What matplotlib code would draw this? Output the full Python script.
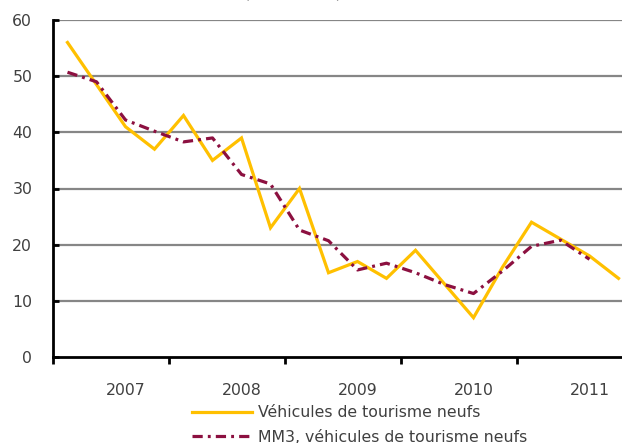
import numpy as np
import matplotlib
matplotlib.use("Agg")
import matplotlib.pyplot as plt
from matplotlib.lines import Line2D

# ---- data ----
years = ["2007", "2008", "2009", "2010", "2011"]
vehicules = [56, 48.5, 41, 37, 43, 35, 39, 23, 30, 15, 17, 14, 19, 13, 7, 16, 24, 21, 18, 14]
mm3 = [50.7, 49.0, 42.2, 40.2, 38.3, 39.0, 32.5, 30.8, 22.6, 20.7, 15.5, 16.7, 15.0, 12.9,
       11.3, 15.3, 19.7, 20.8, 17.4, np.nan]
yticks = [0, 10, 20, 30, 40, 50, 60]
label_v = "Véhicules de tourisme neufs"
label_m = "MM3, véhicules de tourisme neufs"
title = "(en nombre)"

W, H = 622, 443
fig = plt.figure(figsize=(W / 100, H / 100), dpi=100)
plt.rcParams['font.family'] = ['DejaVu Sans']
txt = '#404040'

# axes: left 53px, top 20px, bottom 357px, 29px per quarter (extends past right edge)
n = len(vehicules)
ax_w = n * 29
ax = fig.add_axes([53 / W, (H - 357) / H, ax_w / W, 337 / H])
x = np.arange(n)

ax.set_ylim(0, 60)
ax.set_xlim(-0.5, n - 0.5)
for v in yticks[1:]:
    ax.axhline(v, color='#868686', lw=1.6, zorder=1)

ax.plot(x, vehicules, color='#FFC000', lw=2.3, zorder=3, solid_joinstyle='miter')
ax.plot(x, mm3, color='#8C1040', lw=2.3, zorder=4,
        linestyle=(0, (3.2, 1.6, 0.9, 1.6)), dash_capstyle='butt')

for s in ['top', 'right']:
    ax.spines[s].set_visible(False)
for s in ['left', 'bottom']:
    ax.spines[s].set_color('black')
    ax.spines[s].set_linewidth(2.0)

ax.set_yticks(yticks)
ax.set_yticklabels([str(v) for v in yticks])
ax.tick_params(axis='y', direction='in', length=4, width=2, color='black',
               labelsize=11.3, labelcolor=txt, pad=15)

# year boundary ticks
bounds = np.arange(-0.5, n + 0.5, 4)
ax.set_xticks(bounds)
ax.set_xticklabels([''] * len(bounds))
ax.tick_params(axis='x', direction='out', length=5, width=2, color='black')
# year labels
ax.set_xticks(np.arange(2, n, 4), minor=True)
ax.set_xticklabels(years, minor=True)
ax.tick_params(axis='x', which='minor', length=0, labelsize=11.3, labelcolor=txt, pad=19)

# legend
handles = [Line2D([], [], color='#FFC000', lw=2.3),
           Line2D([], [], color='#8C1040', lw=2.3, linestyle=(0, (3.2, 1.6, 0.9, 1.6)))]
fig.legend(handles, [label_v, label_m], loc='upper left',
           bbox_to_anchor=(192 / W, 1 - 405 / H), frameon=False,
           fontsize=11.3, labelcolor=txt, handlelength=3.8, handletextpad=0.4,
           labelspacing=0.62, borderpad=0, borderaxespad=0)

fig.text(293 / W, 1 + 3 / H, title, ha='center', va='baseline', fontsize=11.3, color=txt)

fig.savefig('out.png', dpi=100)
